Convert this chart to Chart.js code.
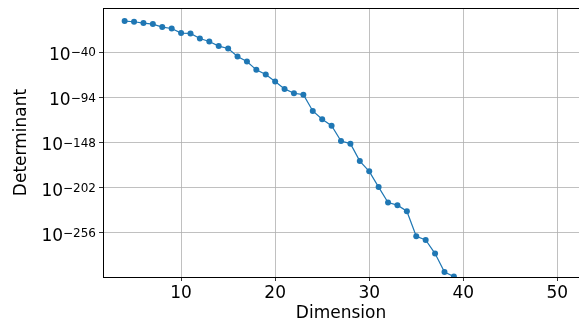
<!DOCTYPE html>
<html>
<head>
<meta charset="utf-8">
<script src="https://cdn.jsdelivr.net/npm/chart.js@4.4.0/dist/chart.umd.min.js"></script>
<style>
  html, body { margin: 0; padding: 0; background: #fff; }
</style>
</head>
<body>
<canvas id="chart" width="579" height="322"></canvas>
<script>
// matrix dimension and log10 of its determinant
const dimensions = [4, 5, 6, 7, 8, 9, 10, 11, 12, 13, 14, 15, 16, 17, 18, 19, 20, 21,
    22, 23, 24, 25, 26, 27, 28, 29, 30, 31, 32, 33, 34, 35, 36, 37, 38, 39];
const logDeterminant = [-2.9, -3.7, -5.3, -6.5, -10.1, -11.8, -17.3, -17.7, -23.7, -27.3,
    -32.8, -35.7, -45.3, -51.3, -61.2, -66.8, -75, -83.9, -89.1, -90.8, -110.3, -120.2,
    -127.9, -146.2, -149.3, -170.1, -182.4, -201.2, -219.6, -222.8, -230, -259.9, -264.3,
    -280.6, -302.6, -308.1];
const xTicks = [10, 20, 30, 40, 50];
const yTickExponents = [-40, -94, -148, -202, -256];

const blue = '#1f77b4';
const font = { family: 'DejaVu Sans', size: 17 };

// top spine (the right one is cut off by the picture edge)
const frame = {
    id: 'frame',
    afterDraw(chart) {
        const { ctx, chartArea: a } = chart;
        ctx.save();
        ctx.strokeStyle = '#000';
        ctx.lineWidth = 1;
        ctx.beginPath();
        ctx.moveTo(a.left, a.top + 0.5);
        ctx.lineTo(chart.width, a.top + 0.5);
        ctx.stroke();
        ctx.restore();
    }
};

// y tick labels as 10 with a raised exponent, like mathtext
const powerLabels = {
    id: 'powerLabels',
    afterDraw(chart) {
        const { ctx } = chart;
        const y = chart.scales.y;
        const right = y.right - 7;
        ctx.save();
        ctx.fillStyle = '#000';
        ctx.textAlign = 'right';
        ctx.textBaseline = 'alphabetic';
        y.ticks.forEach(t => {
            const py = y.getPixelForValue(t.value);
            const exp = String(t.value).replace('-', '\u2212');
            ctx.font = '12px "DejaVu Sans"';
            const w = ctx.measureText(exp).width;
            ctx.fillText(exp, right, py + 4.2);
            ctx.font = '17px "DejaVu Sans"';
            ctx.fillText('10', right - w, py + 7.8);
        });
        ctx.restore();
    }
};

new Chart(document.getElementById('chart'), {
    type: 'scatter',
    data: {
        datasets: [{
            data: dimensions.map((d, i) => ({ x: d, y: logDeterminant[i] })),
            showLine: true,
            borderColor: blue,
            backgroundColor: blue,
            borderWidth: 1.2,
            pointRadius: 3,
            pointBorderWidth: 0,
            pointBackgroundColor: blue
        }]
    },
    options: {
        responsive: false,
        devicePixelRatio: 1,
        animation: false,
        layout: { autoPadding: false, padding: { top: 8, right: 0, left: 0, bottom: 0 } },
        plugins: { legend: { display: false }, tooltip: { enabled: false } },
        scales: {
            x: {
                type: 'linear',
                min: 1.7,
                max: 52.3,
                afterBuildTicks: s => { s.ticks = xTicks.map(v => ({ value: v })); },
                afterFit: s => { s.height = 45; s.paddingLeft = 0; s.paddingRight = 0; },
                grid: { color: '#b0b0b0', lineWidth: 0.8, tickColor: '#000', tickLength: 4 },
                border: { color: '#000', width: 1 },
                ticks: { font, color: '#000', padding: 2, maxRotation: 0 },
                title: { display: true, text: 'Dimension', font, color: '#000', padding: { top: 3, bottom: -2 } }
            },
            y: {
                type: 'linear',
                min: -308.6,
                max: 12.7,
                afterBuildTicks: s => { s.ticks = yTickExponents.map(v => ({ value: v })); },
                afterFit: s => { s.width = 103; },
                grid: { color: '#b0b0b0', lineWidth: 0.8, tickColor: '#000', tickLength: 4 },
                border: { color: '#000', width: 1 },
                ticks: { display: false },
                title: { display: true, text: 'Determinant', font, color: '#000', padding: { top: 11, bottom: 0 } }
            }
        }
    },
    plugins: [frame, powerLabels]
});
</script>
</body>
</html>
